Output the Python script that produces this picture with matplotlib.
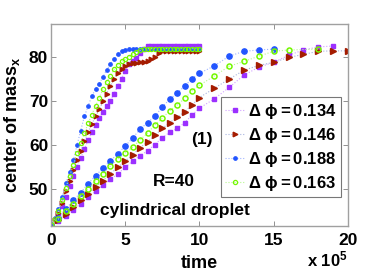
import matplotlib
matplotlib.use('Agg')
import matplotlib.pyplot as plt
import numpy as np

plt.rcParams['font.family'] = ['Liberation Sans', 'DejaVu Sans']
plt.rcParams['font.weight'] = 'bold'
plt.rcParams['mathtext.fontset'] = 'custom'
plt.rcParams['mathtext.rm'] = 'Liberation Sans'
plt.rcParams['mathtext.it'] = 'Liberation Sans:italic'
plt.rcParams['mathtext.bf'] = 'Liberation Sans:bold'

# time in units of 1e5
t_fast = np.arange(0, 10.25, 0.25)
purple_fast = [42, 43.0, 44.3, 46.2, 48.4, 50.8, 53.0, 55.2, 57.2, 59.2, 61.2, 63.0, 64.7, 66.2,
               67.6, 69.0, 70.2, 71.8, 73.5, 75.2, 77.0, 78.4, 79.2, 79.9, 80.9, 81.9, 82.5,
               82.7, 82.7, 82.7, 82.7, 82.7, 82.7, 82.7, 82.7, 82.7, 82.7, 82.7, 82.7, 82.7, 82.7]
red_fast = [42, 43.0, 44.6, 47.0, 49.6, 52.0, 54.4, 56.6, 58.8, 61.0, 63.0, 64.9, 66.6, 68.2,
            70.0, 71.8, 73.5, 75.0, 76.4, 77.4, 78.1, 78.5, 78.7, 78.8, 78.9, 79.0, 79.2, 79.6,
            80.1, 81.0, 81.4, 81.5, 81.5, 81.5, 81.5, 81.5, 81.5, 81.5, 81.5, 81.5, 81.5]
blue_fast = [42, 43.5, 45.6, 48.4, 51.4, 54.0, 56.6, 60.0, 63.4, 66.6, 69.0, 71.2, 72.8, 74.0,
             75.6, 77.2, 78.5, 79.6, 80.7, 81.5, 81.8, 81.9, 82.0, 82.0, 82.0, 82.0, 82.0, 82.0,
             82.0, 82.0, 82.0, 82.0, 82.0, 82.0, 82.0, 82.0, 82.0, 82.0, 82.0, 82.0, 82.0]
green_fast = [42, 43.2, 45.0, 47.6, 50.4, 53.0, 55.6, 58.2, 60.6, 62.8, 65.0, 67.0, 69.0, 70.9,
              72.8, 74.4, 75.9, 77.3, 78.3, 79.1, 79.6, 80.2, 80.7, 81.2, 81.6, 81.9, 82.0,
              82.0, 82.0, 82.0, 82.0, 82.0, 82.0, 82.0, 82.0, 82.0, 82.0, 82.0, 82.0, 82.0, 82.0]

t_half = [0, 0.5, 1, 1.5, 2, 2.5, 3, 3.5, 4, 4.5, 5, 5.5, 6, 6.5, 7, 7.5, 8, 8.5, 9, 9.5, 10]
t_purple_slow = t_half + [11, 12, 13, 14, 15, 16, 17, 18, 19]
purple_slow = [42, 42.8, 44.0, 45.4, 46.8, 48.2, 49.6, 51.0, 52.3, 53.6, 55.0, 56.5, 57.7, 58.8,
               60.2, 61.8, 63.0, 63.9, 65.2, 66.9, 68.5, 70.6, 73.2, 76.0, 77.8, 78.9, 80.5,
               81.7, 82.4, 82.6]
t_red_slow = t_half + [11, 12, 13, 14, 15, 16, 17, 18, 19, 20]
red_slow = [42, 43.0, 44.4, 46.0, 47.6, 49.0, 50.6, 52.0, 53.6, 55.0, 56.5, 57.9, 59.5, 60.8,
            62.3, 63.9, 65.2, 66.4, 67.7, 69.2, 70.9, 73.0, 75.1, 77.1, 78.2, 78.9, 80.0, 80.7,
            81.4, 81.5, 81.5]
t_blue_slow = t_half + [11, 12, 13, 14, 15]
blue_slow = [42, 43.6, 45.6, 47.5, 49.3, 51.3, 53.1, 54.9, 56.5, 58.1, 59.9, 61.7, 63.7, 65.2,
             66.6, 68.8, 70.5, 71.9, 73.5, 75.2, 76.4, 78.1, 80.3, 81.4, 81.7, 81.9]
t_green_slow = t_half + [11, 12, 13, 14, 15, 16, 18]
green_slow = [42, 43.3, 45.0, 46.8, 48.6, 50.2, 52.0, 53.6, 55.3, 56.9, 58.3, 59.6, 61.3, 62.8,
              64.7, 66.2, 67.9, 69.2, 70.7, 72.4, 73.7, 75.8, 78.0, 79.1, 80.3, 81.4, 81.7, 81.9]

dphi = ['0.134', '0.146', '0.188', '0.163']
labels = [r'$\Delta\ \mathrm{\phi}\mathbf{{=}%s}$' % d for d in dphi]

c_purple, c_red, c_blue, c_green = '#9B30FF', '#A51C00', '#2255FF', '#74F800'
l_purple, l_red, l_blue, l_green = '#D2A0FF', '#A8B4E0', '#A0B4FF', '#B8F890'

fig = plt.figure(figsize=(3.82, 2.71), dpi=100)
ax = fig.add_axes([0.1335, 0.166, 0.7775, 0.7454])

# fast runs (small markers)
ax.plot(t_fast, purple_fast, ':', color=l_purple, lw=0.8, marker='s', ms=2.4,
        mfc=c_purple, mec=c_purple, label=labels[0])
ax.plot(t_fast, red_fast, ':', color=l_red, lw=0.8, marker='>', ms=3.3,
        mfc=c_red, mec=c_red, label=labels[1])
ax.plot(t_fast, blue_fast, ':', color=l_blue, lw=0.8, marker='o', ms=2.4,
        mfc=c_blue, mec=c_blue, label=labels[2])
ax.plot(t_fast, green_fast, ':', color=l_green, lw=0.8, marker='o', ms=3.0,
        mfc='none', mec=c_green, mew=0.9, label=labels[3])

# slow runs (bigger markers)
ax.plot(t_purple_slow, purple_slow, ':', color=l_purple, lw=0.8, marker='s', ms=3.4,
        mfc=c_purple, mec=c_purple)
ax.plot(t_red_slow, red_slow, ':', color=l_red, lw=0.8, marker='>', ms=4.4,
        mfc=c_red, mec=c_red)
ax.plot(t_blue_slow, blue_slow, ':', color=l_blue, lw=0.8, marker='o', ms=3.8,
        mfc=c_blue, mec=c_blue)
ax.plot(t_green_slow, green_slow, ':', color=l_green, lw=0.8, marker='o', ms=3.6,
        mfc='none', mec=c_green, mew=1.1)

ax.set_xlim(0, 20)
ax.set_ylim(41.7, 87.6)
ax.set_xticks([0, 5, 10, 15, 20])
ax.set_yticks([50, 60, 70, 80])
ax.tick_params(direction='in', top=True, right=True, length=3.5, width=0.6,
               colors='#808080', labelcolor='black', labelsize=12.5)
ax.tick_params(axis='x', pad=5)
ax.tick_params(axis='y', pad=2)
for lab in ax.get_xticklabels() + ax.get_yticklabels():
    lab.set_fontweight('bold')
for s in ax.spines.values():
    s.set_color('#a0a0a0')
    s.set_linewidth(1.0)

ax.set_xlabel('time', fontsize=13, fontweight='bold', labelpad=5)
ax.set_ylabel(r'center of mass$_\mathbf{x}$', fontsize=13, fontweight='bold', labelpad=5)
fig.text(0.803, 0.005, r'x 10$^\mathbf{5}$', fontsize=12, fontweight='bold', ha='left', va='bottom')

ax.text(10.13, 61.4, '(1)', fontsize=12.5, fontweight='bold', ha='center', va='center')
ax.text(8.29, 51.9, 'R=40', fontsize=12.5, fontweight='bold', ha='center', va='center')
ax.text(8.34, 45.2, 'cylindrical droplet', fontsize=12.5, fontweight='bold', ha='center', va='center')

leg = ax.legend(loc='lower right', bbox_to_anchor=(0.975, 0.145), borderaxespad=0,
                prop={'weight': 'normal', 'size': 12}, frameon=True, fancybox=False,
                handlelength=1.1, handletextpad=0.25, labelspacing=0.3, borderpad=0.25)
leg.get_frame().set_edgecolor('#555555')
leg.get_frame().set_linewidth(0.8)

fig.savefig('out.png', dpi=100)
